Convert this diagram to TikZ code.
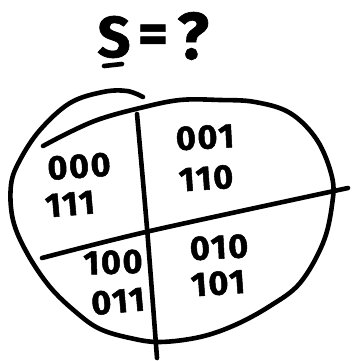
\documentclass[tikz,border=0pt]{standalone}
\usepackage{fontspec}
\setmainfont{Fira Sans}
\begin{document}
\begin{tikzpicture}[x=1pt,y=-1pt,
  ink/.style={line width=4.6pt,line cap=round,line join=round},
  bits/.style={font=\fontsize{34}{34}\selectfont\bfseries\addfontfeature{FakeBold=1.5,LetterSpace=5}, inner sep=0pt, text depth=0pt},
  title/.style={font=\fontsize{58}{58}\selectfont\bfseries\addfontfeature{FakeBold=1}, inner sep=0pt}]
\useasboundingbox (0,0) rectangle (352,361);
% title
\node[title] (s) at (114,37) {S};
\node[title] (eq) at (153,39) {=};
\node[title,font=\fontsize{66}{66}\selectfont\bfseries\addfontfeature{FakeBold=1}] (q) at (193,36) {?};
\coordinate (ul1) at (104,66);
\coordinate (ul2) at (122,64);
\draw[ink] (ul1) -- (ul2);
% outer blob
\draw[ink] plot[smooth,tension=0.6] coordinates {
  (43,146) (70,132) (100,119) (140,108) (180,100) (220,100) (255,102)
  (290,113) (317,140) (332,177) (332,205) (323,243) (300,283) (270,306)
  (235,325) (200,337) (160,342) (130,338) (100,329) (77,313) (50,287)
  (27,253) (13,220) (11,185) (20,160) (40,130) (70,103) (103,92) (127,91) (143,97)};
% dividers
\coordinate (h1) at (42,258);
\coordinate (hm) at (150,231);
\coordinate (h2) at (348,188);
\draw[ink] plot[smooth] coordinates {(h1) (hm) (h2)};
\coordinate (v1) at (137,114);
\coordinate (vm) at (147,228);
\coordinate (v2) at (157,358);
\draw[ink] plot[smooth] coordinates {(v1) (vm) (v2)};
% bit strings
\node[bits,rotate=4] (a1) at (79,166) {000};
\node[bits,rotate=5] (a2) at (70,204) {111};
\node[bits,rotate=3] (b1) at (205,137) {001};
\node[bits,rotate=4] (b2) at (206,178) {110};
\node[bits,rotate=2] (c1) at (113,262) {100};
\node[bits,rotate=5] (c2) at (118,301) {011};
\node[bits,rotate=3] (d1) at (219,247) {010};
\node[bits,rotate=4] (d2) at (218,283) {101};
\end{tikzpicture}
\end{document}
